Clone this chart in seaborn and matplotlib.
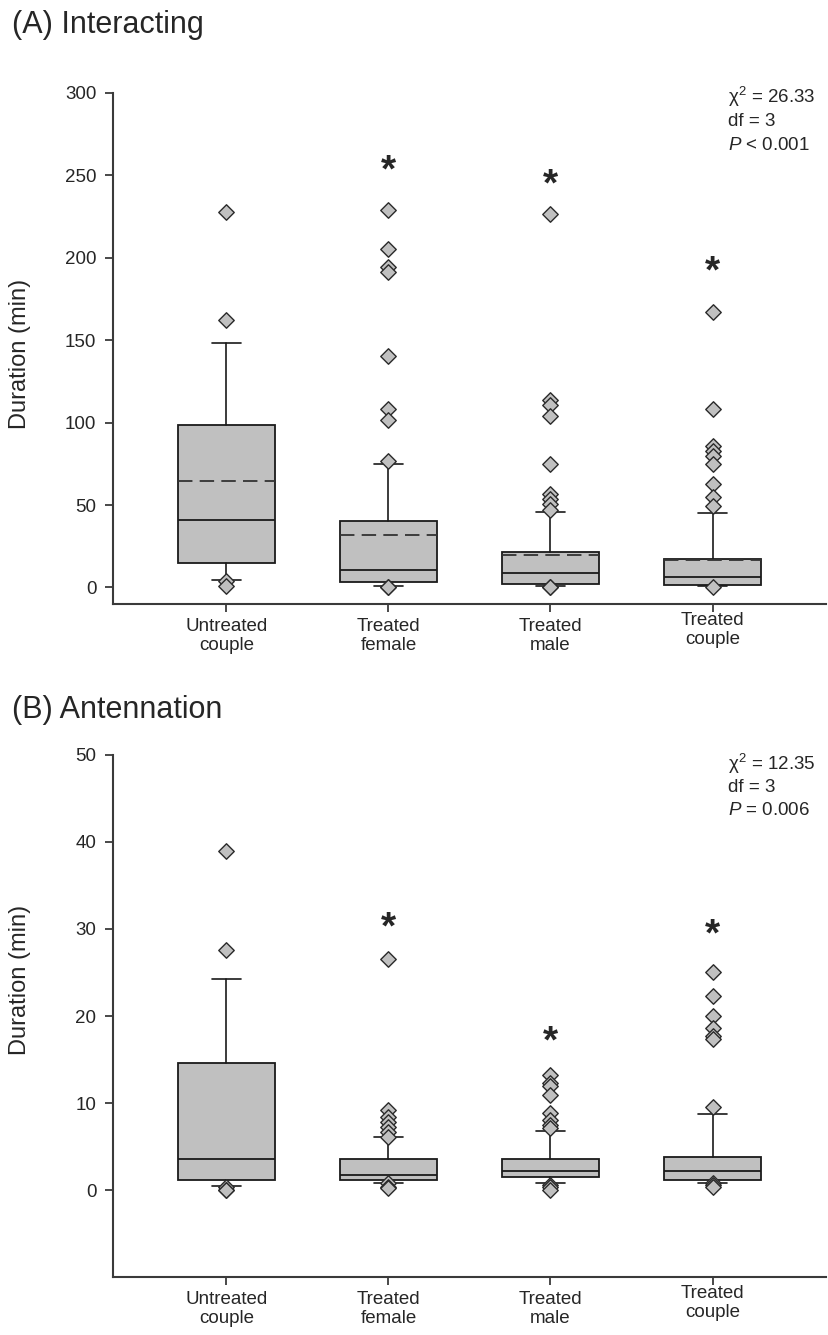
import numpy as np
import pandas as pd
import matplotlib
matplotlib.use('Agg')
import matplotlib.pyplot as plt
import matplotlib.transforms as mtransforms
import seaborn as sns

# %% data
groups = ['Untreated\ncouple', 'Treated\nfemale', 'Treated\nmale', 'Treated\ncouple']

# (A) Interacting - box = quartiles, whiskers = 10th/90th percentiles
int_q1 = [15.1, 3.5, 2.4, 1.3]
int_med = [41.1, 10.4, 8.6, 6.5]
int_q3 = [98.8, 40.6, 21.6, 17.5]
int_lo = [4.5, 0.6, 1.1, 0.9]
int_hi = [148.3, 75.2, 45.8, 45.0]
int_mean = [64.4, 31.6, 19.7, 16.9]
int_out = [
    [227.6, 162.1, 3.9, 0.6],
    [228.9, 205.2, 194.1, 191.1, 140.5, 108.1, 101.6, 76.7, 0.3, 0.0],
    [226.5, 113.7, 110.9, 103.8, 74.8, 56.9, 53.6, 50.4, 47.1, 0.0, 0.0],
    [167.1, 108.1, 85.6, 82.8, 79.6, 75.2, 62.9, 54.7, 49.7, 0.0],
]
int_star = [None, 260.0, 251.4, 198.4]
int_stats = ['χ$^2$ = 26.33', 'df = 3', '$\\mathit{P}$ < 0.001']

# (B) Antennation
ant_q1 = [1.15, 1.15, 1.54, 1.15]
ant_med = [3.57, 1.73, 2.23, 2.23]
ant_q3 = [14.6, 3.53, 3.53, 3.84]
ant_lo = [0.5, 0.77, 0.77, 0.84]
ant_hi = [24.3, 6.07, 6.8, 8.7]
ant_out = [
    [39.0, 27.6, 0.4, 0.0, 0.0],
    [26.5, 9.2, 8.45, 7.87, 7.3, 6.7, 6.14, 0.77, 0.4, 0.2],
    [13.2, 12.3, 11.9, 10.9, 8.8, 8.1, 7.5, 7.1, 0.6, 0.4, 0.0],
    [25.0, 22.3, 20.0, 18.6, 17.7, 17.3, 9.5, 0.77, 0.6, 0.4],
]
ant_star = [None, 31.5, 18.4, 30.6]
ant_stats = ['χ$^2$ = 12.35', 'df = 3', '$\\mathit{P}$ = 0.006']

# %% style
sns.set_style('ticks')
plt.rcParams['font.family'] = ['Liberation Sans', 'DejaVu Sans']
plt.rcParams['mathtext.fontset'] = 'custom'
plt.rcParams['mathtext.rm'] = 'Liberation Sans'
plt.rcParams['mathtext.it'] = 'Liberation Sans:italic'

box_gray = '#c0c0c0'
edge = '#1a1a1a'
axis_col = '#3a3a3a'


def draw_panel(ax, q1, med, q3, lo, hi, mean, outliers, stars, ylim, yticks, stat_lines, stat_y, stat_step):
    stats = []
    for i in range(len(groups)):
        d = dict(med=med[i], q1=q1[i], q3=q3[i], whislo=lo[i], whishi=hi[i], fliers=[])
        if mean is not None:
            d['mean'] = mean[i]
        stats.append(d)
    ax.bxp(stats, positions=range(len(groups)), widths=0.6, capwidths=0.18,
           patch_artist=True, showfliers=False,
           showmeans=mean is not None, meanline=True,
           boxprops=dict(facecolor=box_gray, edgecolor=edge, linewidth=1.3),
           medianprops=dict(color=edge, linewidth=1.3),
           whiskerprops=dict(color=edge, linewidth=1.2),
           capprops=dict(color=edge, linewidth=1.2),
           meanprops=dict(color='#333333', linestyle=(0, (8, 4)), linewidth=1.3))

    fl = pd.DataFrame({'x': [i for i, v in enumerate(outliers) for _ in v],
                       'y': [y for v in outliers for y in v]})
    sns.scatterplot(data=fl, x='x', y='y', marker='D', s=62, color=box_gray,
                    edgecolor='#2a2a2a', linewidth=1.0, ax=ax, zorder=5, legend=False)

    for i, s in enumerate(stars):
        if s is not None:
            ax.annotate('*', xy=(i, s), xytext=(0, -16), textcoords='offset points',
                        ha='center', va='baseline', fontsize=28, fontweight='bold')

    for k, line in enumerate(stat_lines):
        ax.text(0.862, stat_y - k * stat_step, line, transform=ax.get_yaxis_transform(),
                ha='left', va='center', fontsize=13.5)

    ax.set_xlim(-0.7, 3.7)
    ax.set_ylim(*ylim)
    ax.set_yticks(yticks)
    ax.set_xticks(range(len(groups)))
    ax.set_xticklabels(groups, fontsize=13.5, linespacing=1.15)
    ax.tick_params(axis='y', labelsize=13.5, length=6, width=1.3, pad=6, color=axis_col)
    ax.tick_params(axis='x', length=6, width=1.3, pad=4, color=axis_col)
    # last category label sits a little higher in the original
    lbl = ax.get_xticklabels()[-1]
    lbl.set_transform(lbl.get_transform() +
                      mtransforms.ScaledTranslation(0, 4 / 72, ax.figure.dpi_scale_trans))
    ax.set_xlabel('')
    ax.set_ylabel('Duration (min)', fontsize=17)
    sns.despine(ax=ax, top=True, right=True)
    for sp in ['left', 'bottom']:
        ax.spines[sp].set_linewidth(1.5)
        ax.spines[sp].set_color(axis_col)


fig = plt.figure(figsize=(8.29, 13.35), dpi=100)
ax_a = fig.add_axes([0.1363, 0.5476, 0.860, 0.3828])
ax_b = fig.add_axes([0.1363, 0.0434, 0.860, 0.3911])

draw_panel(ax_a, int_q1, int_med, int_q3, int_lo, int_hi, int_mean, int_out, int_star,
           (-10, 300), range(0, 301, 50), int_stats, 297.5, 14.8)
draw_panel(ax_b, ant_q1, ant_med, ant_q3, ant_lo, ant_hi, None, ant_out, ant_star,
           (-10, 50), range(0, 51, 10), ant_stats, 49.0, 2.7)
ax_a.yaxis.set_label_coords(-0.115, 0.49)
ax_b.yaxis.set_label_coords(-0.115, 0.57)

fig.text(0.014, 1 - 25 / 1335, '(A) Interacting', fontsize=22, ha='left', va='center')
fig.text(0.014, 1 - 710 / 1335, '(B) Antennation', fontsize=22, ha='left', va='center')

fig.savefig('out.png', dpi=100)
